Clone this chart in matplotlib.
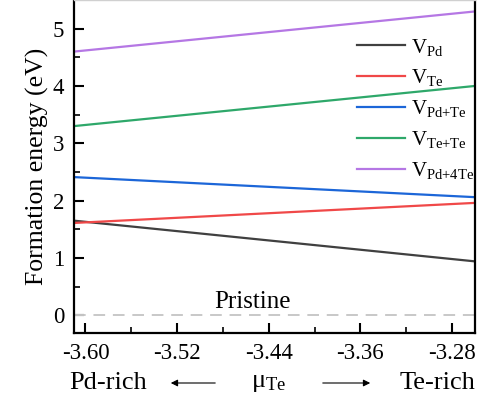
import numpy as np
import matplotlib
matplotlib.use('Agg')
import matplotlib.pyplot as plt
from matplotlib.patches import FancyArrowPatch

plt.rcParams['font.family'] = 'Liberation Serif'
plt.rcParams['mathtext.fontset'] = 'custom'
plt.rcParams['mathtext.rm'] = 'Liberation Serif'
plt.rcParams['mathtext.it'] = 'Liberation Serif:italic'
plt.rcParams['axes.unicode_minus'] = False

# chemical potential range of Te (eV)
mu_te = [-3.61, -3.26]

# formation energies at the Pd-rich and Te-rich ends (eV)
defects = ['Pd', 'Te', 'Pd+Te', 'Te+Te', 'Pd+4Te']
e_form = {
    'Pd': [1.65, 0.94],
    'Te': [1.61, 1.96],
    'Pd+Te': [2.41, 2.06],
    'Te+Te': [3.30, 4.00],
    'Pd+4Te': [4.60, 5.30],
}
colors = ['#404040', '#f04848', '#1c66d8', '#2ea86a', '#b577e4']

xticks = [-3.60, -3.52, -3.44, -3.36, -3.28]

fig = plt.figure(figsize=(4.87, 4.0), dpi=100)
ax = fig.add_axes([0.152, 0.1675, 0.823, 0.8325])

for name, c in zip(defects, colors):
    sub = name.replace('+', '{+}')
    ax.plot(mu_te, e_form[name], color=c, lw=1.6, label=r'V$_{\rm %s}$' % sub)

# pristine reference
ax.axhline(0, color='#c8c8c8', lw=1.4, ls=(0, (6, 4)))
ax.text(-3.454, 0.12, 'Pristine', ha='center', va='baseline', fontsize=18)

ax.set_xlim(mu_te)
ax.set_ylim(-0.31, 5.5)
ax.set_xticks(xticks)
ax.set_xticklabels(['%.2f' % v for v in xticks])
ax.set_xticks(np.arange(-3.56, -3.26, 0.08), minor=True)
ax.set_yticks([0, 1, 2, 3, 4, 5])
ax.set_yticks([0.5, 1.5, 2.5, 3.5, 4.5], minor=True)
ax.tick_params(which='major', direction='in', length=7, width=1.5, labelsize=16.5,
               right=False, top=False, pad=7)
ax.tick_params(which='minor', direction='in', length=4, width=1.2, right=False, top=False)
for s in ['left', 'bottom', 'right']:
    ax.spines[s].set_linewidth(1.6)
ax.spines['top'].set_color('#d0d0d0')
ax.spines['top'].set_linewidth(1.0)

ax.set_ylabel('Formation energy (eV)', fontsize=18.5, labelpad=3)

leg = ax.legend(loc='upper left', bbox_to_anchor=(0.707, 0.89), frameon=False,
                fontsize=15, handlelength=2.3, handletextpad=0.25, labelspacing=0.47,
                borderaxespad=0.0, borderpad=0.0)

# x-axis caption with direction arrows
yc = 1 - 383 / 400
fig.text(108 / 487, yc, 'Pd-rich', ha='center', va='center', fontsize=19)
fig.text(437 / 487, yc, 'Te-rich', ha='center', va='center', fontsize=19)
fig.text(269 / 487, yc, r'$\mathrm{μ}_{\rm Te}$', ha='center', va='center', fontsize=19)
for x0, x1 in [(218, 168), (320, 373)]:
    fig.patches.append(FancyArrowPatch((x0 / 487, yc), (x1 / 487, yc),
                                       transform=fig.transFigure, arrowstyle='-|>',
                                       mutation_scale=10, lw=0.8, color='black'))

fig.savefig('out.png', dpi=100)
